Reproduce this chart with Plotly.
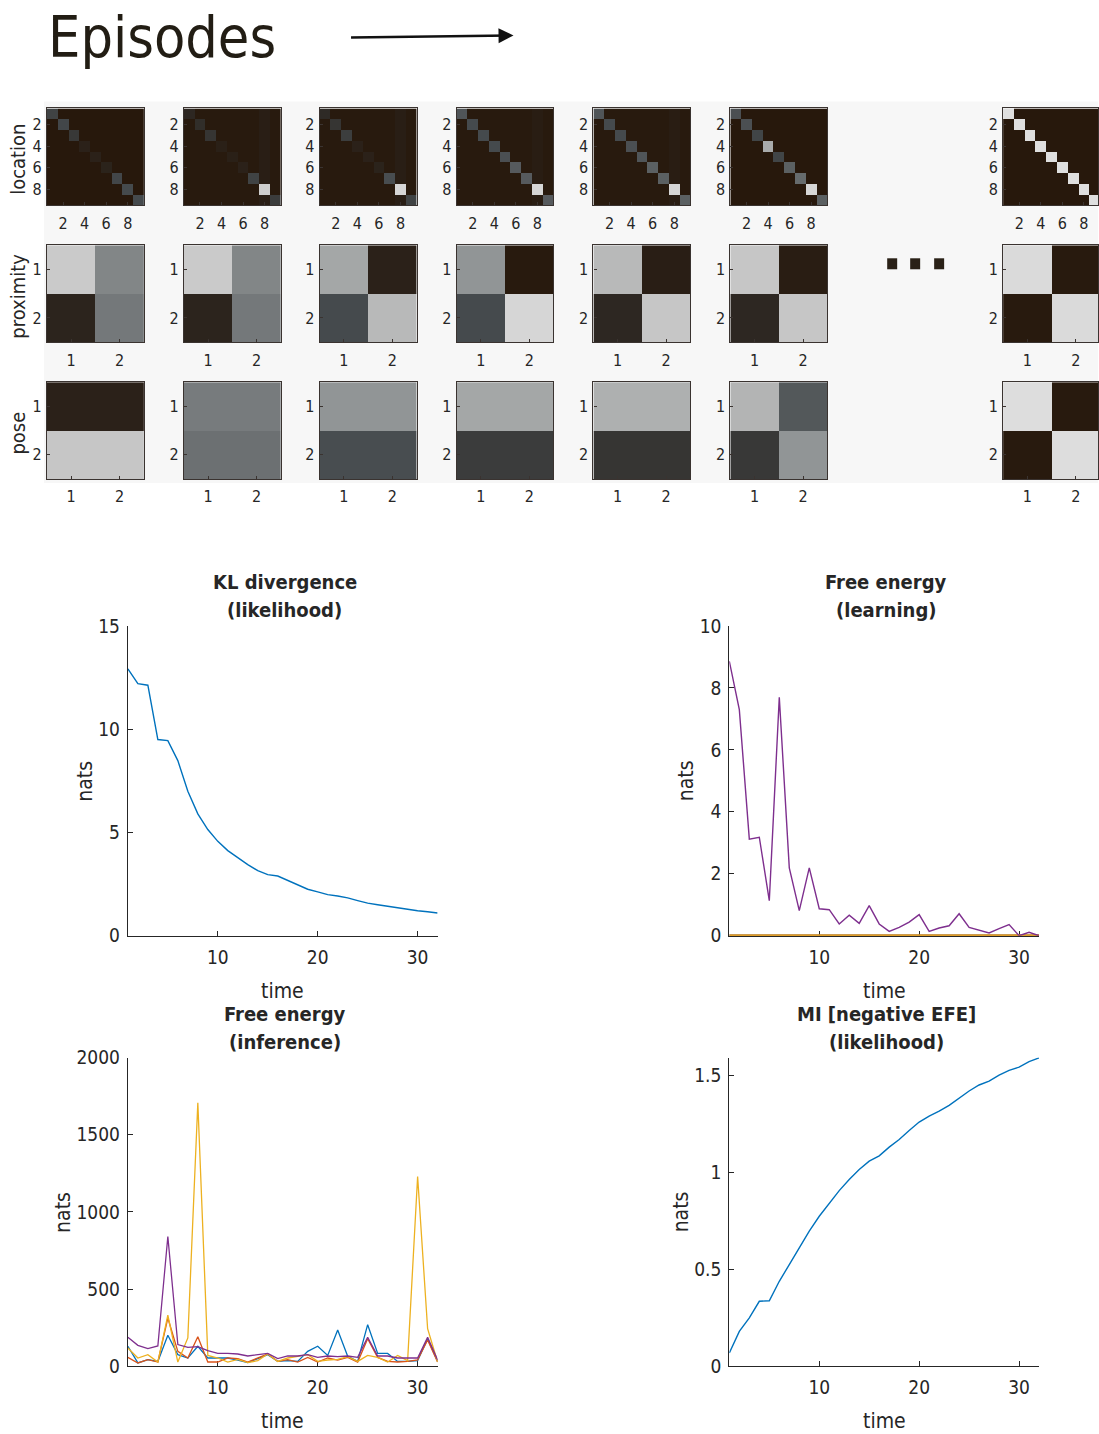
import numpy as np
import plotly.graph_objects as go

W, H = 1099, 1434
FONT = "DejaVu Sans Condensed, Liberation Sans Narrow, Roboto, sans-serif"
TXT = "#262626"
BLUE, RED, YELLOW, PURPLE = "#0072BD", "#D95319", "#EDB120", "#7E2F8E"

# ---------------- data ----------------
time = list(range(1, 33))

kl_likelihood = [12.92, 12.21, 12.13, 9.50, 9.45, 8.48, 7.0, 5.9, 5.14, 4.57, 4.12, 3.76,
                 3.44, 3.15, 2.96, 2.89, 2.67, 2.44, 2.25, 2.12, 1.99, 1.92, 1.83, 1.70,
                 1.58, 1.50, 1.42, 1.34, 1.26, 1.21, 1.16, 1.10]

fe_learning_other = [0.0] * 32
fe_learning = [8.86, 7.30, 3.12, 3.18, 1.13, 7.70, 2.19, 0.81, 2.19, 0.87, 0.84, 0.38,
               0.66, 0.40, 0.97, 0.38, 0.14, 0.27, 0.44, 0.68, 0.14, 0.25, 0.32, 0.71,
               0.27, 0.19, 0.09, 0.23, 0.36, 0.0, 0.11, 0.0]

fe_inf_blue = [130, 22, 43, 32, 201, 76, 54, 130, 54, 54, 54, 41, 24, 50, 76, 32,
               37, 32, 97, 130, 71, 236, 65, 32, 270, 84, 84, 32, 32, 37, 179, 32]
fe_inf_red = [58, 22, 43, 28, 313, 97, 54, 192, 28, 28, 54, 50, 28, 54, 80, 32,
              43, 28, 58, 28, 54, 41, 58, 28, 179, 58, 32, 28, 32, 41, 171, 28]
fe_inf_yellow = [119, 54, 76, 28, 331, 28, 184, 1708, 71, 54, 28, 45, 24, 37, 80, 32,
                 54, 63, 76, 32, 41, 45, 63, 32, 71, 58, 28, 71, 37, 1230, 244, 28]
fe_inf_purple = [188, 136, 115, 132, 841, 141, 123, 128, 102, 84, 84, 80, 67, 76, 84, 50,
                 67, 67, 76, 58, 67, 63, 67, 58, 188, 67, 67, 54, 54, 54, 188, 41]

mi_likelihood = [0.069, 0.18, 0.25, 0.335, 0.338, 0.438, 0.524, 0.61, 0.696, 0.773, 0.842,
                 0.905, 0.962, 1.014, 1.057, 1.084, 1.129, 1.168, 1.215, 1.258, 1.289,
                 1.314, 1.344, 1.383, 1.418, 1.449, 1.469, 1.500, 1.524, 1.541, 1.569, 1.589]

# heat-map panels (7 episodes shown)
location_diag = [
    [0.26, 0.28, 0.20, 0.06, 0.06, 0.07, 0.28, 0.30, 0.30],
    [0.10, 0.14, 0.18, 0.05, 0.05, 0.06, 0.26, 0.84, 0.22],
    [0.12, 0.18, 0.23, 0.06, 0.06, 0.07, 0.31, 0.88, 0.26],
    [0.34, 0.30, 0.30, 0.30, 0.32, 0.36, 0.36, 0.88, 0.36],
    [0.34, 0.30, 0.30, 0.32, 0.34, 0.38, 0.38, 0.88, 0.38],
    [0.32, 0.32, 0.27, 0.68, 0.27, 0.38, 0.42, 0.88, 0.38],
    [0.93, 0.93, 0.93, 0.93, 0.93, 0.93, 0.93, 0.93, 0.93],
]
location_offdiag = [0.0, 0.01, 0.01, 0.01, 0.01, 0.0, 0.0]
location_col8_tint = [0.0, 0.03, 0.03, 0.02, 0.02, 0.0, 0.0]

proximity = [
    [[0.82, 0.52], [0.08, 0.47]],
    [[0.82, 0.52], [0.08, 0.47]],
    [[0.66, 0.06], [0.30, 0.74]],
    [[0.58, 0.01], [0.30, 0.88]],
    [[0.74, 0.04], [0.10, 0.80]],
    [[0.80, 0.03], [0.10, 0.80]],
    [[0.90, 0.01], [0.01, 0.90]],
]
pose = [
    [[0.06, 0.06], [0.80, 0.80]],
    [[0.48, 0.48], [0.44, 0.44]],
    [[0.58, 0.58], [0.31, 0.31]],
    [[0.66, 0.66], [0.22, 0.22]],
    [[0.70, 0.70], [0.18, 0.18]],
    [[0.72, 0.35], [0.20, 0.58]],
    [[0.92, 0.01], [0.01, 0.92]],
]
row_labels = ["location", "proximity", "pose"]

# ---------------- layout geometry ----------------
# vertical correction for the page capture (measured: shown = 0.9855*y + 9.5)
V_OFF, V_SC = 9.5, 0.9855

def px(x):
    return x / W

def py(y):
    return 1 - ((y - V_OFF) / V_SC) / H

COLORSCALE = [[0.0, "#27180c"], [0.12, "#2e2a26"], [0.3, "#454a4d"],
              [0.55, "#8a8e8f"], [0.8, "#c6c6c6"], [1.0, "#ededed"]]

col_left = [47, 184, 320, 457, 594, 731, 1004]
row_top = [107, 244, 381]
HM = 97

fig = go.Figure()
layout = {}
shapes = []
annotations = []
k = 0

def new_axes():
    global k
    k += 1
    return k

def label(text, x, y, size, angle=0, xanchor="center", color=TXT):
    annotations.append(dict(text=text, x=px(x), y=py(y), xref="paper", yref="paper",
                            xanchor=xanchor, yanchor="middle", showarrow=False,
                            textangle=angle, font=dict(family=FONT, size=size, color=color)))

for r in range(3):
    for c in range(7):
        if r == 0:
            d = np.full((9, 9), location_offdiag[c])
            d[:, 7] += location_col8_tint[c]
            np.fill_diagonal(d, location_diag[c])
            z = d
            n = 9
            tv = [2, 4, 6, 8]
        elif r == 1:
            z = np.array(proximity[c])
            n = 2
            tv = [1, 2]
        else:
            z = np.array(pose[c])
            n = 2
            tv = [1, 2]
        i = new_axes()
        xa = "x" if i == 1 else f"x{i}"
        ya = "y" if i == 1 else f"y{i}"
        fig.add_trace(go.Heatmap(z=z, x=list(range(1, n + 1)), y=list(range(1, n + 1)),
                                 colorscale=COLORSCALE, zmin=0, zmax=1, showscale=False,
                                 xaxis=xa, yaxis=ya, hoverinfo="skip"))
        left = col_left[c]
        right = min(left + HM, W)
        cellw = HM / n
        xmax = n + 0.5 - (left + HM - right) / cellw
        top = row_top[r]
        common = dict(showline=True, linecolor="#3a3330", linewidth=1.2, mirror=True,
                      ticks="inside", ticklen=3, tickcolor="#3a3330", showgrid=False,
                      zeroline=False, tickvals=tv,
                      tickfont=dict(family=FONT, size=16, color=TXT))
        layout["xaxis" if i == 1 else f"xaxis{i}"] = dict(
            domain=[px(left), px(right)], range=[0.5, xmax], anchor=ya,
            ticklabelstandoff=3, **common)
        layout["yaxis" if i == 1 else f"yaxis{i}"] = dict(
            domain=[py(top + HM), py(top)], range=[n + 0.5, 0.5], anchor=xa,
            ticklabelstandoff=1, **common)
    label(row_labels[r], 18, row_top[r] + HM / 2 + 2, 20, angle=-90)

# light panel behind heat maps
shapes.append(dict(type="rect", xref="paper", yref="paper", x0=px(44), x1=1,
                   y0=py(482), y1=py(100), fillcolor="#f7f7f7", line_width=0, layer="below"))
# ellipsis squares
for x0 in [888, 911, 935]:
    shapes.append(dict(type="rect", xref="paper", yref="paper", x0=px(x0), x1=px(x0 + 10),
                       y0=py(268), y1=py(257), fillcolor="#2a2117", line_width=0))

# ---------------- line charts ----------------
panels = [
    dict(box=(128, 438, 625, 935), title=["KL divergence", "(likelihood)"],
         series=[(kl_likelihood, BLUE, 1.4)], yr=[0, 15], ytv=[0, 5, 10, 15],
         ytt=["0", "5", "10", "15"], nats_x=85),
    dict(box=(730, 1040, 625, 935), title=["Free energy", "(learning)"],
         series=[(fe_learning_other, BLUE, 2.2), (fe_learning_other, RED, 2.2),
                 (fe_learning_other, YELLOW, 2.2), (fe_learning, PURPLE, 1.4)],
         yr=[0, 10], ytv=[0, 2, 4, 6, 8, 10], ytt=None, nats_x=686),
    dict(box=(128, 438, 1057, 1366), title=["Free energy", "(inference)"],
         series=[(fe_inf_blue, BLUE, 1.3), (fe_inf_red, RED, 1.3), (fe_inf_yellow, YELLOW, 1.3),
                 (fe_inf_purple, PURPLE, 1.3)],
         yr=[0, 2000], ytv=[0, 500, 1000, 1500, 2000], ytt=None, nats_x=63),
    dict(box=(730, 1040, 1057, 1366), title=["MI [negative EFE]", "(likelihood)"],
         series=[(mi_likelihood, BLUE, 1.4)], yr=[0, 1.59], ytv=[0, 0.5, 1, 1.5],
         ytt=["0", "0.5", "1", "1.5"], nats_x=682),
]

for p in panels:
    x0, x1, y0, y1 = p["box"]
    i = new_axes()
    xa, ya = f"x{i}", f"y{i}"
    for vals, col, lw in p["series"]:
        fig.add_trace(go.Scatter(x=time, y=vals, mode="lines", line=dict(color=col, width=lw),
                                 xaxis=xa, yaxis=ya, showlegend=False, hoverinfo="skip",
                                 cliponaxis=False))
    common = dict(showline=True, linecolor=TXT, linewidth=1.2, ticks="inside", ticklen=5,
                  tickcolor=TXT, showgrid=False, zeroline=False, layer="below traces",
                  tickfont=dict(family=FONT, size=19, color=TXT))
    layout[f"xaxis{i}"] = dict(domain=[px(x0), px(x1)], range=[1, 32], anchor=ya,
                               tickvals=[10, 20, 30], ticklabelstandoff=4, **common)
    yd = dict(domain=[py(y1), py(y0)], range=p["yr"], anchor=xa, tickvals=p["ytv"],
              ticklabelstandoff=3, **common)
    if p["ytt"]:
        yd["ticktext"] = p["ytt"]
    layout[f"yaxis{i}"] = yd
    cx = (x0 + x1) / 2 + 2
    label("<b>" + p["title"][0] + "</b>", cx, y0 - 44, 20)
    label("<b>" + p["title"][1] + "</b>", cx, y0 - 16, 20)
    label("time", (x0 + x1) / 2, y1 + 55, 21)
    label("nats", p["nats_x"], (y0 + y1) / 2, 21, angle=-90)

# header
label("Episodes", 46, 36, 57, xanchor="left", color="#221d14")
annotations.append(dict(x=px(514), y=py(34), ax=-164, ay=2, xref="paper", yref="paper",
                        axref="pixel", ayref="pixel", showarrow=True, arrowhead=2,
                        arrowsize=1.2, arrowwidth=2.5, arrowcolor="#111111", text=""))

fig.update_layout(width=W, height=H, margin=dict(l=0, r=0, t=0, b=0),
                  paper_bgcolor="white", plot_bgcolor="rgba(0,0,0,0)",
                  showlegend=False, shapes=shapes, annotations=annotations,
                  font=dict(family=FONT, color=TXT), **layout)

POST = (
    "document.documentElement.style.margin='0';"
    "document.body.style.margin='0';"
    "document.body.style.padding='0';"
    "var d=document.getElementsByClassName('plotly-graph-div')[0];"
    "d.style.position='absolute';d.style.top='0px';d.style.left='0px';"
    "document.documentElement.style.overflow='hidden';"
)
fig.write_html("out.html", config={"displayModeBar": False}, post_script=POST)
